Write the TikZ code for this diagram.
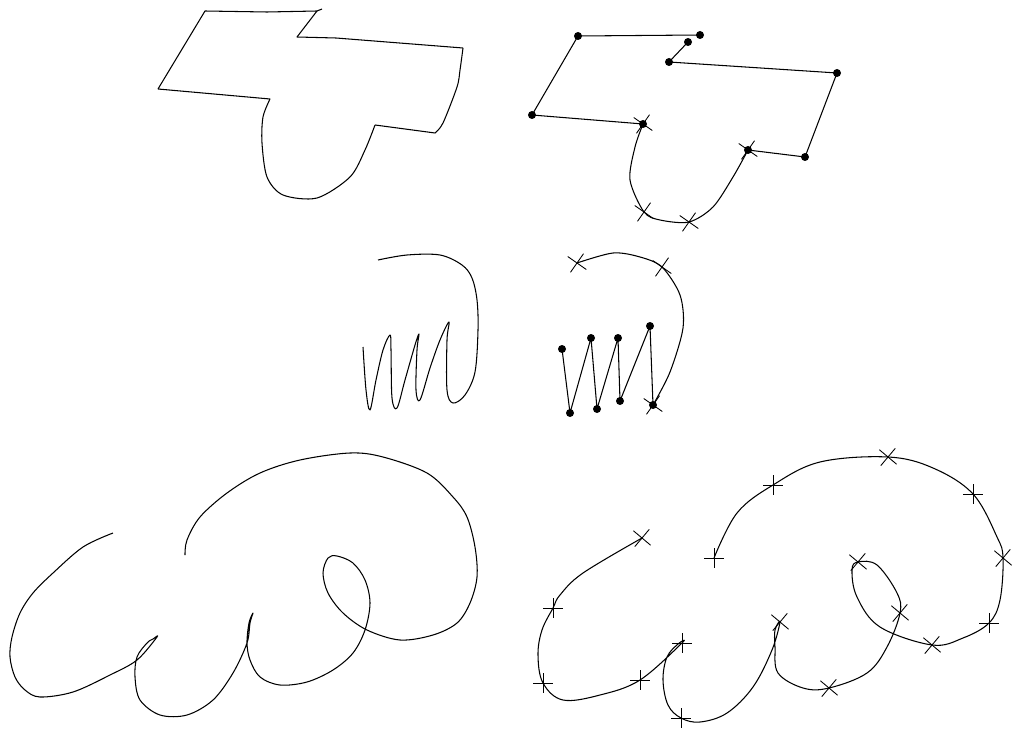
\documentclass[tikz,border=0pt]{standalone}
\begin{document}
\begin{tikzpicture}[x=0.02cm,y=-0.02cm,line width=0.6pt,line join=round,
  stroke/.style={draw=black},
  dotmark/.style={fill=black},
  xmark/.pic={\draw[line width=0.5pt] (-8,-8) -- (8,8) (-8,8) -- (8,-8);},
  pmark/.pic={\draw[line width=0.5pt] (-10,0) -- (10,0) (0,-10) -- (0,10);}]
\useasboundingbox (0,0) rectangle (1013,733);
% ---- top left shape
\draw[stroke] (158,89) -- (205,11) -- (267,12) -- (317,11) -- (322,9)
  (317,11) -- (297,37) -- (336,38) -- (463,48)
  plot[smooth] coordinates {(463,48) (460,70) (457,87) (443,123) (435,133)}
  -- (375,125)
  plot[smooth] coordinates {(375,125) (365,150) (350,177) (317,198) (283,195) (267,177) (262,143) (263,117) (270,99)}
  -- (158,89);
% ---- top right shape
\coordinate (a1) at (578,36); \coordinate (a2) at (700,35);
\coordinate (a3) at (688,42); \coordinate (a4) at (669,62);
\coordinate (a5) at (837,73); \coordinate (a6) at (805,157);
\coordinate (a7) at (748,150); \coordinate (a8) at (643,124);
\coordinate (a9) at (532,115);
\coordinate (s1) at (689,222); \coordinate (s2) at (644,212);
\draw[stroke] (a1) -- (a2) (a3) -- (a4) -- (a5) -- (a6) -- (a7)
  plot[smooth] coordinates {(748,150) (733,177) (713,207) (689,222) (660,220) (644,212) (630,180) (635,147) (643,124)}
  (a8) -- (a9) -- (a1);
\foreach \p in {a1,a2,a3,a4,a5,a6,a7,a8,a9} \fill[dotmark] (\p) circle (4);
\foreach \p in {a7,a8,s1,s2} \pic[rotate=10] at (\p) {xmark};
% ---- middle left scribble
\draw[stroke] plot[smooth,tension=0.55] coordinates {(378,260) (407,255) (440,255) (462,265) (472,278) (477,300) (478,330) (475,372) (465,395) (453,403) (447,390) (447,340) (449,322) (440,340) (430,368) (420,400) (416,390) (417,350) (419,334) (415,345) (405,380) (397,408) (392,398) (391,350) (390,335) (383,350) (376,380) (370,410) (366,390) (363,347)};
% ---- middle right
\coordinate (b1) at (562,349); \coordinate (b2) at (570,413);
\coordinate (b3) at (591,338); \coordinate (b4) at (597,409);
\coordinate (b5) at (618,338); \coordinate (b6) at (620,401);
\coordinate (b7) at (650,326); \coordinate (b8) at (653,405);
\coordinate (c1) at (662,267); \coordinate (c2) at (577,263);
\draw[stroke] (b1) -- (b2) -- (b3) -- (b4) -- (b5) -- (b6) -- (b7) -- (b8);
\draw[stroke] plot[smooth] coordinates {(653,405) (670,372) (683,328) (680,295) (662,267) (640,257) (613,253) (577,263)};
\foreach \p in {b1,b2,b3,b4,b5,b6,b7,b8} \fill[dotmark] (\p) circle (4);
\foreach \p in {b8,c1,c2} \pic[rotate=10] at (\p) {xmark};
% ---- bottom left curve
\draw[stroke] plot[smooth,tension=0.55] coordinates {(113,533) (83,547) (53,573) (33,593) (20,613) (12,637) (10,657) (15,677) (25,690) (40,697) (73,692) (110,675) (137,660) (157,637) (153,639) (147,643) (137,657) (135,677) (140,700) (160,715) (187,715) (213,700) (233,673) (247,643) (250,623) (253,613) (249,623) (247,643) (250,660) (260,677) (280,685) (307,682) (333,670) (353,653) (365,630) (370,603) (365,580) (353,563) (337,556) (328,558) (323,573) (328,593) (343,613) (367,630) (400,640) (433,635) (457,623) (470,603) (477,577) (475,547) (467,517) (453,497) (427,473) (383,457) (350,453) (300,460) (260,473) (227,493) (200,517) (187,540) (185,555)};
% ---- bottom right curve with marks
\coordinate (d1) at (642,538);
\coordinate (d2) at (553,608); \coordinate (d3) at (543,683);
\coordinate (d4) at (640,680); \coordinate (d5) at (682,643);
\coordinate (d6) at (681,718); \coordinate (d7) at (780,622);
\coordinate (d8) at (829,688); \coordinate (d9) at (900,613);
\coordinate (d10) at (858,562); \coordinate (d11) at (932,645);
\coordinate (d12) at (989,623); \coordinate (d13) at (1003,558);
\coordinate (d14) at (973,494); \coordinate (d15) at (888,457);
\coordinate (d16) at (773,485); \coordinate (d17) at (714,558);
\draw[stroke] plot[smooth,tension=0.6] coordinates {(642,538) (583,573) (560,595) (553,608) (542,630) (538,655) (543,683) (563,700) (600,695) (640,680) (682,643) (678,644) (667,657) (663,680) (668,705) (681,718) (700,722) (727,713) (753,687) (772,650) (780,622) (775,630) (775,647) (778,673) (803,688) (829,688) (867,673) (887,647) (900,613) (897,593) (877,565) (858,562) (852,570) (857,597) (880,627) (932,645) (963,638) (989,623) (1000,600) (1003,558) (997,537) (973,494) (933,468) (888,457) (820,462) (773,485) (737,513) (714,558)};
\foreach \p in {d1,d7,d8,d9,d10,d11,d13,d15} \pic[rotate=5] at (\p) {xmark};
\foreach \p in {d2,d3,d4,d5,d6,d12,d14,d16,d17} \pic at (\p) {pmark};
\end{tikzpicture}
\end{document}
